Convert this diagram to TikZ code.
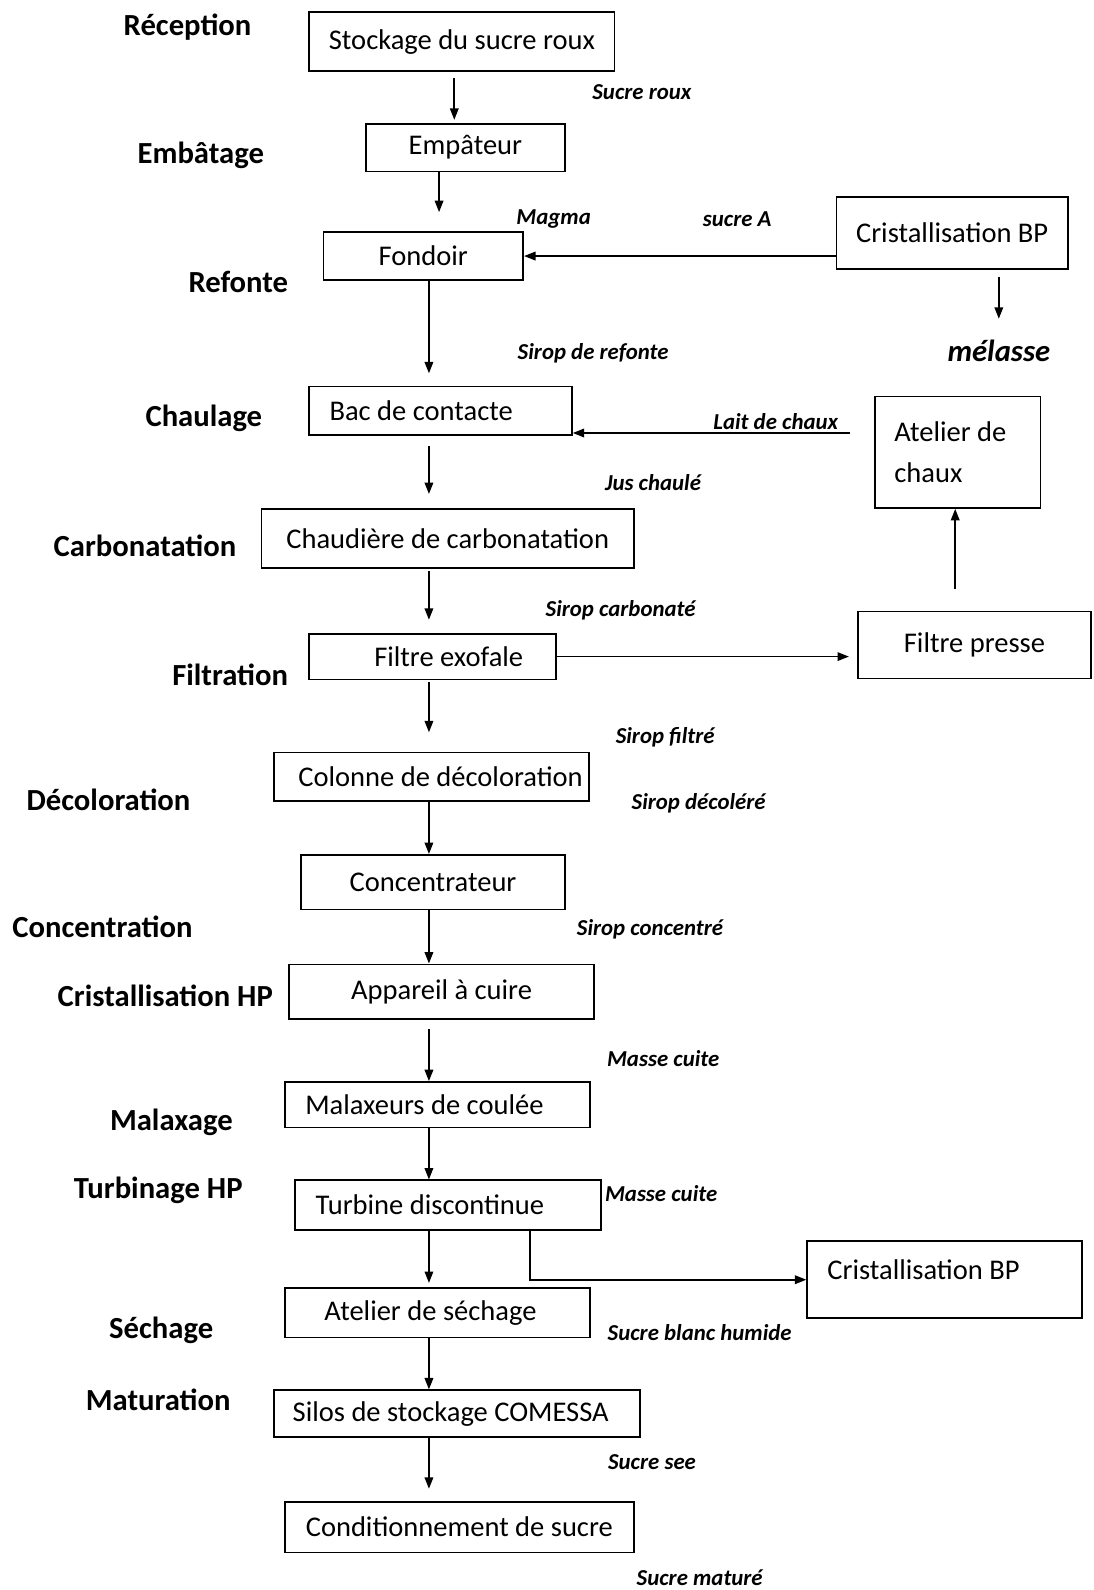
\documentclass[tikz,border=0pt]{standalone}
\usepackage{fontspec}
\setmainfont{Carlito}
\usetikzlibrary{arrows.meta}
\newcommand{\upx}{0.025cm}
\tikzset{
  box/.style={draw, line width=1.2pt, inner sep=0pt, font=\fontsize{20}{27}\selectfont},
  sz/.style 2 args={minimum width=#1*\upx, minimum height=#2*\upx},
  stage/.style={font=\fontsize{21.5}{25}\selectfont\bfseries},
  flowlbl/.style={font=\fontsize{16}{19}\selectfont\bfseries\itshape},
  flow/.style={-{Triangle[length=8pt,width=6pt]}, line width=1.2pt},
}
\begin{document}
\begin{tikzpicture}[x=0.025cm, y=-0.025cm]
\useasboundingbox (0,0) rectangle (1078,1568);
% Stages
\node[stage] (stRecep) at (185,27) {Réception};
\node[stage] (stEmbat) at (198,153) {Embâtage};
\node[stage] (stRefon) at (235,278) {Refonte};
\node[stage] (stChaul) at (201,413) {Chaulage};
\node[stage] (stCarbo) at (143,538) {Carbonatation};
\node[stage] (stFiltr) at (227,665) {Filtration};
\node[stage] (stDecol) at (107,789) {Décoloration};
\node[stage] (stConce) at (101,914) {Concentration};
\node[stage] (stCrist) at (163,982) {Cristallisation HP};
\node[stage] (stMalax) at (169,1107) {Malaxage};
\node[stage] (stTurbi) at (156,1174) {Turbinage HP};
\node[stage] (stSecha) at (159,1312) {Séchage};
\node[stage] (stMatur) at (156,1380) {Maturation};
% Equipment
\node[box, sz={301}{58}] (stock) at (455.5,41) {Stockage du sucre roux};
\node[box, sz={196}{47}] (empat) at (459,145.5) {Empâteur};
\node[box, sz={197}{47}] (fond) at (417.5,252.5) {Fondoir};
\node[box, sz={228}{71}] (cbpA) at (939,229.5) {Cristallisation BP};
\node[box, sz={259}{48}] (bac) at (434.5,405) {\makebox[5.475cm][l]{Bac de contacte}};
\node[box, sz={163}{110}] (chaux) at (944.5,446) {\parbox[c]{3.125cm}{Atelier de\\[2pt] chaux}};
\node[box, sz={367}{58}] (chaud) at (441.5,531) {Chaudière de carbonatation};
\node[box, sz={243}{45}] (exo) at (426.5,647.5) {\hspace*{0.8cm}Filtre exofale};
\node[box, sz={230}{66}] (presse) at (961,636) {Filtre presse};
\node[box, sz={311}{48}] (colon) at (425.5,766) {\hspace*{0.45cm}Colonne de décoloration};
\node[box, sz={260}{54}] (conc) at (427,870) {Concentrateur};
\node[box, sz={301}{54}] (appar) at (435.5,978) {Appareil à cuire};
\node[box, sz={301}{45}] (malax) at (431.5,1089.5) {Malaxeurs de coulée\hspace*{0.65cm}};
\node[box, sz={302}{49}] (turb) at (442,1188.5) {Turbine discontinue\hspace*{0.9cm}};
\node[box, sz={271}{76}, text depth=0.5cm] (cbpB) at (931.5,1262) {\makebox[5.775cm][l]{Cristallisation BP}};
\node[box, sz={301}{49}] (sech) at (431.5,1294.5) {Atelier de séchage\hspace*{0.35cm}};
\node[box, sz={361}{46}] (silos) at (450.5,1394) {Silos de stockage COMESSA\hspace*{0.3cm}};
\node[box, sz={344}{50}] (condi) at (453,1506) {Conditionnement de sucre};
% Products
\node[flowlbl] (lRoux) at (633,91) {Sucre roux};
\node[flowlbl] (lMagma) at (546,216) {Magma};
\node[flowlbl] (lSucreA) at (727,216) {sucre A};
\node[flowlbl, font=\fontsize{21.5}{25}\selectfont\bfseries\itshape] (melasse) at (985,346) {mélasse};
\node[flowlbl] (lRefonte) at (585,348) {Sirop de refonte};
\node[flowlbl] (lLait) at (765,416) {Lait de chaux};
\node[flowlbl] (lJus) at (644,476) {Jus chaulé};
\node[flowlbl] (lCarbo) at (612,602) {Sirop carbonaté};
\node[flowlbl] (lFiltre) at (656,727) {Sirop filtré};
\node[flowlbl] (lDecol) at (689,792) {Sirop décoléré};
\node[flowlbl] (lConc) at (641,916) {Sirop concentré};
\node[flowlbl] (lMasseA) at (654,1044) {Masse cuite};
\node[flowlbl] (lMasseB) at (652,1177) {Masse cuite};
\node[flowlbl] (lHumide) at (690,1314) {Sucre blanc humide};
\node[flowlbl] (lSec) at (643,1442) {Sucre see};
\node[flowlbl] (lMature) at (690,1556) {Sucre maturé};
% Main line
\coordinate (colA) at (448,0);
\coordinate (colB) at (433,0);
\coordinate (spine) at (423,0);
\coordinate (colC) at (942,0);
\draw[flow, shorten <=6*\upx, shorten >=3*\upx] (stock.south -| colA) -- (empat.north -| colA);
\draw[flow, shorten >=19*\upx] (empat.south -| colB) -- (fond.north -| colB);
\draw[flow, shorten >=12*\upx] (fond.south -| spine) -- (bac.north -| spine);
\draw[flow, shorten <=10*\upx, shorten >=14*\upx] (bac.south -| spine) -- (chaud.north -| spine);
\draw[flow, shorten <=2*\upx, shorten >=13*\upx] (chaud.south -| spine) -- (exo.north -| spine);
\draw[flow, shorten <=2*\upx, shorten >=19*\upx] (exo.south -| spine) -- (colon.north -| spine);
\draw[flow] (colon.south -| spine) -- (conc.north -| spine);
\draw[flow] (conc.south -| spine) -- (appar.north -| spine);
\draw[flow, shorten <=9*\upx] (appar.south -| spine) -- (malax.north -| spine);
\draw[flow] (malax.south -| spine) -- (turb.north -| spine);
\draw[flow, shorten >=4*\upx] (turb.south -| spine) -- (sech.north -| spine);
\draw[flow] (sech.south -| spine) -- (silos.north -| spine);
\draw[flow, shorten >=12*\upx] (silos.south -| spine) -- (condi.north -| spine);
% Side streams
\draw[flow] (cbpA.west |- fond.east) -- (fond.east);
\draw[flow, shorten <=7*\upx, shorten >=16*\upx] (cbpA.south -| melasse) -- (melasse.north);
\coordinate (laitsrc) at (838,427);
\draw[flow] (laitsrc) -- (bac.east |- laitsrc);
\draw[flow, shorten >=8*\upx] (exo.east) -- (exo.east -| presse.west);
\draw[flow, shorten <=21*\upx] (presse.north -| colC) -- (chaux.south -| colC);
\draw[flow] ([xshift=-71*\upx]turb.south east) |- (cbpB.west);
\end{tikzpicture}
\end{document}
